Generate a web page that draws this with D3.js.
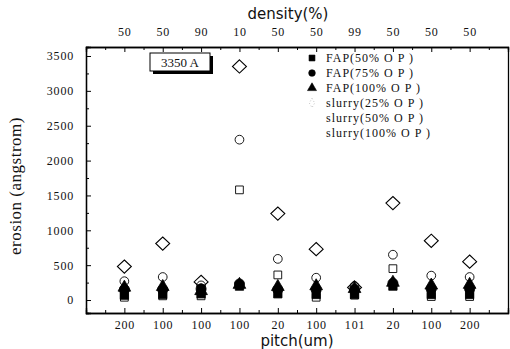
<!DOCTYPE html>
<html>
<head>
<meta charset="utf-8">
<script src="https://cdn.jsdelivr.net/npm/d3@7"></script>
<style>
  body { margin: 0; background: white; }
  svg text { fill: #111; }
</style>
</head>
<body>
<div id="chart"></div>
<script>
// categories (bottom pitch labels, top density labels)
const pitch = ["200", "100", "100", "100", "20", "100", "101", "20", "100", "200"];
const density = ["50", "50", "90", "10", "50", "50", "99", "50", "50", "50"];

// series values, erosion in angstrom
const fap50 = [70, 80, 90, 200, 90, 80, 80, 200, 80, 80];
const fap75 = [150, 150, 160, 230, 150, 150, 150, 240, 160, 160];
const fap100 = [180, 190, 130, 220, 190, 200, 160, 250, 210, 220];
const slurry25 = [480, 810, 260, 3350, 1240, 730, 180, 1390, 850, 550];
const slurry50 = [270, 330, 210, 2300, 590, 320, 200, 650, 350, 330];
const slurry100 = [40, 60, 60, 1580, 360, 40, 70, 450, 50, 50];

const yTicks = [0, 500, 1000, 1500, 2000, 2500, 3000, 3500];

const legendNames = ["FAP(50% O P )", "FAP(75% O P )", "FAP(100% O P )",
    "slurry(25% O P )", "slurry(50% O P )", "slurry(100% O P )"];

function drawChart() {
    const width = 510, height = 349;
    const margin = {left: 86, right: 2, top: 47, bottom: 36};
    const serif = "Liberation Serif";
    const sans = "DejaVu Sans";

    const svg = d3.select("#chart").append("svg")
        .attr("width", width)
        .attr("height", height);

    const x = d3.scaleLinear().domain([0, 11]).range([margin.left, width - margin.right]);
    const y = d3.scaleLinear().domain([-186, 3629]).range([height - margin.bottom, margin.top]);

    const idx = d3.range(1, pitch.length + 1);
    const minorX = d3.range(0.5, 11, 1);

    let styleTicks = function (g) {
        g.attr("font-family", serif).attr("font-size", 12);
        g.selectAll("text")
            .attr("font-family", serif)
            .attr("letter-spacing", 0.8);
    }

    // bottom axis, ticks inward
    svg.append("g")
        .attr("transform", `translate(0,${y.range()[0]})`)
        .call(d3.axisBottom(x).tickValues(idx).tickSize(-5).tickPadding(7)
            .tickFormat((d, i) => pitch[i]))
        .call(styleTicks);
    svg.append("g")
        .attr("transform", `translate(0,${y.range()[0]})`)
        .call(d3.axisBottom(x).tickValues(minorX).tickSize(-3).tickFormat(""));

    // top axis, ticks inward
    svg.append("g")
        .attr("transform", `translate(0,${margin.top})`)
        .call(d3.axisTop(x).tickValues(idx).tickSize(-5).tickPadding(11)
            .tickFormat((d, i) => density[i]))
        .call(styleTicks);
    svg.append("g")
        .attr("transform", `translate(0,${margin.top})`)
        .call(d3.axisTop(x).tickValues(minorX).tickSize(-3).tickFormat(""));

    // left axis
    svg.append("g")
        .attr("transform", `translate(${margin.left},0)`)
        .call(d3.axisLeft(y).tickValues(yTicks).tickSize(-5).tickPadding(12).tickFormat(d3.format("d")))
        .call(styleTicks);
    svg.append("g")
        .attr("transform", `translate(${margin.left},0)`)
        .call(d3.axisLeft(y).tickValues(d3.range(250, 3600, 500)).tickSize(-3).tickFormat(""));

    // right axis, plain line
    svg.append("g")
        .attr("transform", `translate(${width - margin.right},0)`)
        .call(d3.axisRight(y).tickValues([]).tickSizeOuter(0));

    svg.selectAll(".domain").attr("stroke", "#000").attr("stroke-width", 1.3);

    // axis titles
    svg.append("text")
        .attr("x", 288).attr("y", 19)
        .attr("text-anchor", "middle")
        .attr("font-family", sans).attr("font-size", 15)
        .text("density(%)");
    svg.append("text")
        .attr("x", 297).attr("y", 346)
        .attr("text-anchor", "middle")
        .attr("font-family", sans).attr("font-size", 15)
        .text("pitch(um)");
    svg.append("text")
        .attr("transform", "translate(21,186) rotate(-90)")
        .attr("text-anchor", "middle")
        .attr("font-family", serif).attr("font-size", 17)
        .attr("letter-spacing", 0.5)
        .text("erosion (angstrom)");

    // series
    const series = [
        {v: slurry100, shape: d3.symbolSquare, size: 60, fill: "none", sx: 1, sy: 1},
        {v: slurry50, shape: d3.symbolCircle, size: 60, fill: "none", sx: 1, sy: 1},
        {v: slurry25, shape: d3.symbolDiamond, size: 70, fill: "none", sx: 1.55, sy: 0.85},
        {v: fap50, shape: d3.symbolSquare, size: 70, fill: "#000", sx: 1, sy: 1},
        {v: fap75, shape: d3.symbolCircle, size: 80, fill: "#000", sx: 1, sy: 1},
        {v: fap100, shape: d3.symbolTriangle, size: 70, fill: "#000", sx: 1, sy: 1}
    ];

    series.forEach(function (s) {
        svg.append("g")
            .selectAll("path")
            .data(s.v)
            .join("path")
            .attr("transform", (d, i) => `translate(${x(i + 1)},${y(d)}) scale(${s.sx},${s.sy})`)
            .attr("d", d3.symbol().type(s.shape).size(s.size))
            .attr("fill", s.fill)
            .attr("stroke", "#000")
            .attr("stroke-width", s.fill === "none" ? 0.9 : 0.8);
    });

    // annotation box with shadow
    svg.append("rect").attr("x", 153).attr("y", 56).attr("width", 60).attr("height", 18).attr("fill", "#000");
    svg.append("rect").attr("x", 150).attr("y", 53).attr("width", 60).attr("height", 18)
        .attr("fill", "white").attr("stroke", "#000").attr("stroke-width", 1);
    svg.append("text")
        .attr("x", 180).attr("y", 67)
        .attr("text-anchor", "middle")
        .attr("font-family", serif).attr("font-size", 13)
        .text("3350 A");

    // legend
    const legendShapes = [d3.symbolSquare, d3.symbolCircle, d3.symbolTriangle, d3.symbolDiamond, null, null];
    const legend = svg.append("g");
    legendNames.forEach(function (name, i) {
        const ly = 62 + i * 15;
        if (legendShapes[i]) {
            legend.append("path")
                .attr("transform", `translate(312,${ly - 4})`)
                .attr("d", d3.symbol().type(legendShapes[i]).size(i < 3 ? 35 : 25))
                .attr("fill", i < 3 ? "#000" : "none")
                .attr("stroke", i < 3 ? "#000" : "#999")
                .attr("stroke-width", 0.6)
                .attr("stroke-dasharray", i < 3 ? null : "1,2");
        }
        legend.append("text")
            .attr("x", 326).attr("y", ly)
            .attr("font-family", serif).attr("font-size", 12)
            .attr("letter-spacing", 1)
            .text(name);
    });
}

drawChart();
</script>
</body>
</html>
